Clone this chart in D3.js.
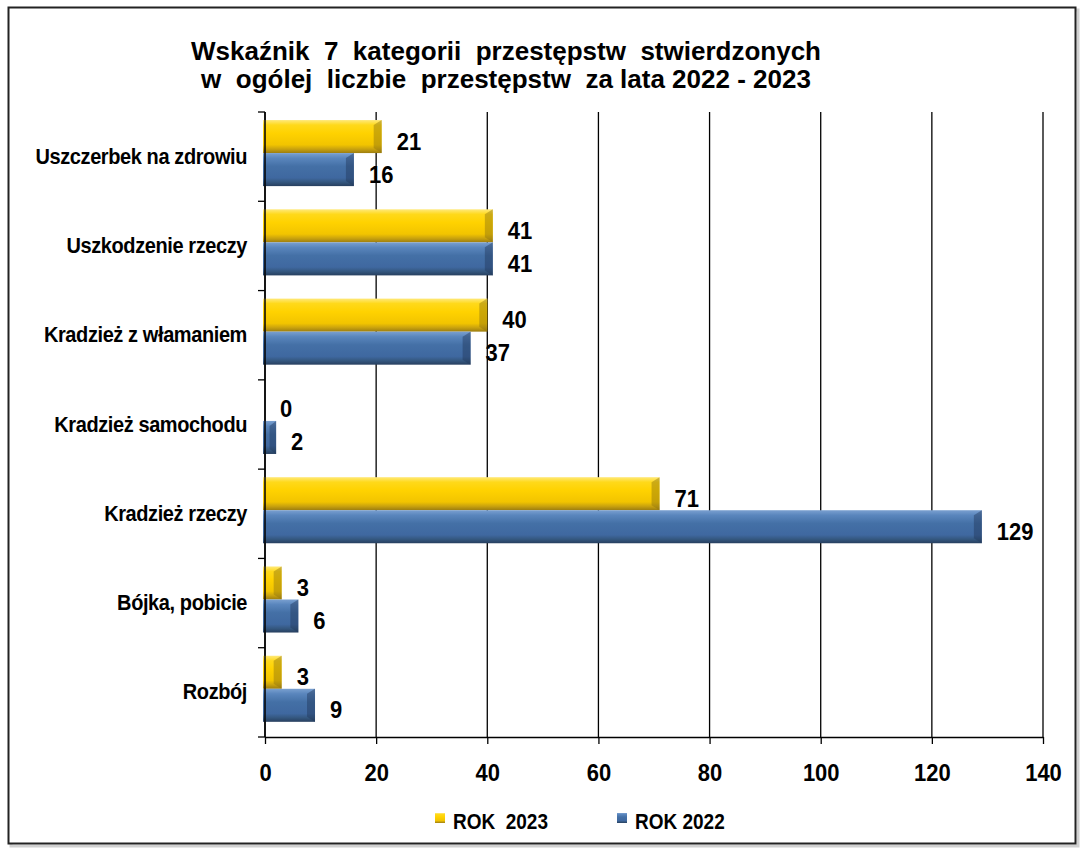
<!DOCTYPE html>
<html>
<head>
<meta charset="utf-8">
<script src="https://cdn.jsdelivr.net/npm/d3@7"></script>
<style>
  body { margin: 0; background: #fff; }
  text { font-family: Arial, "Liberation Sans", sans-serif; font-weight: bold; fill: #000; }
</style>
</head>
<body>
<div id="chart"></div>
<script>
// data
var categories = ["Uszczerbek na zdrowiu", "Uszkodzenie rzeczy", "Kradzież z włamaniem",
                  "Kradzież samochodu", "Kradzież rzeczy", "Bójka, pobicie", "Rozbój"];
var rok2023 = [21, 41, 40, 0, 71, 3, 3];
var rok2022 = [16, 41, 37, 2, 129, 6, 9];
var xTicks = [0, 20, 40, 60, 80, 100, 120, 140];
var seriesNames = ["ROK  2023", "ROK 2022"];
var titleLines = ["Wskaźnik  7  kategorii  przestępstw  stwierdzonych",
                  "w  ogólej  liczbie  przestępstw  za lata 2022 - 2023"];

var W = 1080, H = 849;
var plot = { left: 265, right: 1043, top: 112, bottom: 737 };
var stretch = 1.12; // text in the original looks a bit taller than plain Arial

var svg = d3.select('#chart').append('svg')
  .attr('width', W).attr('height', H);

// bevel gradients for the bars
var defs = svg.append('defs');
var palettes = [
  { id: 'gYel', stops: ['#ffe97a', '#ffd91a', '#ffd200', '#f2c400', '#c9a20e', '#9c7d10'] },
  { id: 'gBlu', stops: ['#7aa0d0', '#5a86bd', '#4470a6', '#3f68a0', '#34577f', '#273f5f'] }
];
palettes.forEach(function(p){
  var g = defs.append('linearGradient').attr('id', p.id)
    .attr('x1', 0).attr('y1', 0).attr('x2', 0).attr('y2', 1);
  var offs = [0, 0.15, 0.4, 0.75, 0.88, 1];
  p.stops.forEach(function(c, i){
    g.append('stop').attr('offset', offs[i]).attr('stop-color', c);
  });
});

// put a text at (tx,ty) stretched vertically
function tallText(parent, tx, ty, size){
  return parent.append('text')
    .attr('transform', 'translate(' + tx + ',' + ty + ') scale(1,' + stretch + ')')
    .style('font-size', size + 'px');
}

// frame with a light shadow
svg.append('rect').attr('x', 11).attr('y', 10).attr('width', 1067).attr('height', 836)
  .attr('fill', 'none').attr('stroke', '#d0d0d0').attr('stroke-width', 3);
svg.append('rect').attr('x', 8.5).attr('y', 7.5).attr('width', 1067).attr('height', 836)
  .attr('fill', '#fff').attr('stroke', '#222').attr('stroke-width', 2);

// title
svg.append('g').selectAll('text').data(titleLines).enter().append('text')
  .attr('x', 506).attr('y', function(d, i){ return 60 + i * 28; })
  .attr('text-anchor', 'middle').style('font-size', '26px')
  .style('white-space', 'pre')
  .text(function(d){ return d; });

var x = d3.scaleLinear().domain([0, 140]).range([plot.left, plot.right]);
var y = d3.scaleBand().domain(categories).range([plot.top, plot.bottom]);
var bw = y.bandwidth();
var barH = bw * 0.37, barOff = bw * 0.09;

// vertical gridlines
svg.append('g').selectAll('line').data(xTicks).enter().append('line')
  .attr('x1', function(d){ return x(d); }).attr('x2', function(d){ return x(d); })
  .attr('y1', plot.top).attr('y2', plot.bottom)
  .attr('stroke', '#000').attr('stroke-width', 1.3);

// bars
var series = [
  { name: seriesNames[0], vals: rok2023, fill: 'url(#gYel)', edge: '#8f7310' },
  { name: seriesNames[1], vals: rok2022, fill: 'url(#gBlu)', edge: '#22385a' }
];

series.forEach(function(s, si){
  var g = svg.append('g');
  categories.forEach(function(c, i){
    var v = s.vals[i];
    var y0 = y(c) + barOff + si * barH;
    var x0 = x(0) - 2, x1 = x(v);
    if (v > 0) {
      g.append('rect').attr('x', x0).attr('y', y0)
        .attr('width', x1 - x0).attr('height', barH)
        .attr('fill', s.fill);
      // darker right end, the bevel
      var b = Math.min(8, (x1 - x0) / 2);
      g.append('polygon')
        .attr('points', [[x1 - b, y0 + 5], [x1, y0], [x1, y0 + barH], [x1 - b, y0 + barH - 5]].join(' '))
        .attr('fill', s.edge).attr('opacity', 0.45);
    }
    // value label
    tallText(g, x(v) + 15, y0 + barH / 2 + 13, 22).text(v);
  });
});

// x axis
var xAxis = d3.axisBottom(x).tickValues(xTicks).tickSize(7).tickSizeOuter(0).tickPadding(17);
var gx = svg.append('g').attr('transform', 'translate(0,' + plot.bottom + ')').call(xAxis);
gx.select('.domain').attr('stroke', '#000').attr('stroke-width', 1.5);
gx.selectAll('.tick line').attr('stroke', '#000').attr('stroke-width', 1.3);
gx.selectAll('.tick text').style('font-size', '22px').style('font-family', 'Arial, "Liberation Sans", sans-serif')
  .style('font-weight', 'bold').attr('fill', '#000')
  .attr('transform', 'scale(1,' + stretch + ')');

// y axis: line at 0 plus ticks at band boundaries
svg.append('line').attr('x1', x(0)).attr('x2', x(0))
  .attr('y1', plot.top).attr('y2', plot.bottom)
  .attr('stroke', '#000').attr('stroke-width', 1.5);
var bounds = categories.map(function(c){ return y(c); }).concat([plot.bottom]);
svg.append('g').selectAll('line').data(bounds).enter().append('line')
  .attr('x1', x(0) - 7).attr('x2', x(0))
  .attr('y1', function(d){ return d; }).attr('y2', function(d){ return d; })
  .attr('stroke', '#000').attr('stroke-width', 1.3);

var gy = svg.append('g');
categories.forEach(function(c){
  tallText(gy, x(0) - 18, y(c) + bw / 2 + 7, 20).attr('text-anchor', 'end')
    .style('letter-spacing', '-0.4px').text(c);
});

// legend
var legendX = [435, 617];
series.forEach(function(s, i){
  var lg = svg.append('g').attr('transform', 'translate(' + legendX[i] + ',813)');
  lg.append('rect').attr('width', 10).attr('height', 10).attr('fill', s.fill);
  tallText(lg, 18, 16, 19).style('white-space', 'pre').text(s.name);
});
</script>
</body>
</html>
